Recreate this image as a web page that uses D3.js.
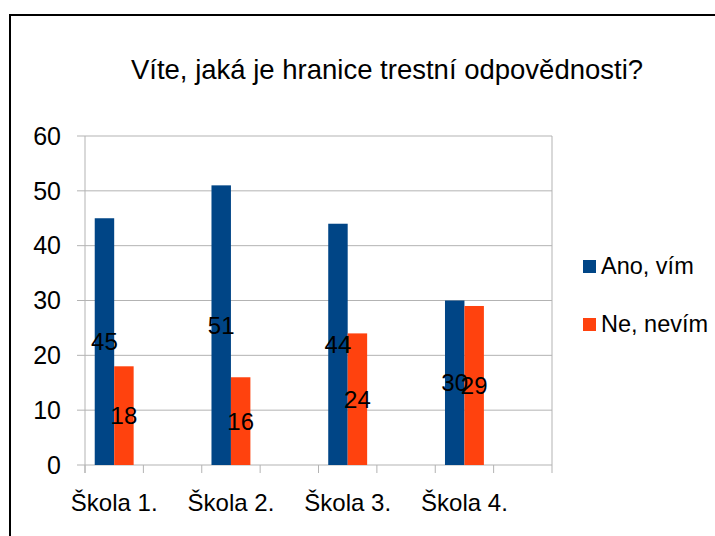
<!DOCTYPE html>
<html>
<head>
<meta charset="utf-8">
<script src="https://cdn.jsdelivr.net/npm/d3@7"></script>
<style>
  body { margin: 0; background: #fff; }
  svg { display: block; font-family: "Liberation Sans", Arial, sans-serif; }
</style>
</head>
<body>
<div id="chart"></div>
<script>
const categories = ["Škola 1.", "Škola 2.", "Škola 3.", "Škola 4."];
const seriesNames = ["Ano, vím", "Ne, nevím"];
const ano = [45, 51, 44, 30];
const ne = [18, 16, 24, 29];
const yTicks = [0, 10, 20, 30, 40, 50, 60];
const colors = ["#004586", "#ff420e"];
const title = "Víte, jaká je hranice trestní odpovědnosti?";

const width = 715, height = 536;
const svg = d3.select("#chart").append("svg")
    .attr("width", width)
    .attr("height", height);

// outer frame
svg.append("rect")
    .attr("x", 10).attr("y", 15)
    .attr("width", width).attr("height", height)
    .attr("fill", "none")
    .attr("stroke", "#000")
    .attr("stroke-width", 2);

svg.append("text")
    .attr("x", 387).attr("y", 79)
    .attr("text-anchor", "middle")
    .style("font-size", "27.5px")
    .text(title);

const plot = { left: 85, right: 552, top: 136, bottom: 465 };

const x = d3.scaleBand()
    .domain(categories)
    .range([plot.left, plot.right]);
const y = d3.scaleLinear()
    .domain([0, 60])
    .range([plot.bottom, plot.top]);

const barW = x.bandwidth() / 6;
const groupCenter = c => x(c) + x.bandwidth() / 4;

// gridlines + y ticks
svg.append("g").selectAll("line")
    .data(yTicks)
    .enter().append("line")
    .attr("x1", plot.left - 8)
    .attr("x2", plot.right)
    .attr("y1", d => y(d))
    .attr("y2", d => y(d))
    .attr("stroke", "#b3b3b3")
    .attr("stroke-width", 1);

svg.append("g").selectAll("text")
    .data(yTicks)
    .enter().append("text")
    .attr("x", 61)
    .attr("y", d => y(d))
    .attr("dy", "0.35em")
    .attr("text-anchor", "end")
    .style("font-size", "25px")
    .text(d => d);

// axis lines
svg.append("line")
    .attr("x1", plot.left).attr("x2", plot.left)
    .attr("y1", plot.top).attr("y2", plot.bottom + 8)
    .attr("stroke", "#b3b3b3");
svg.append("line")
    .attr("x1", plot.right).attr("x2", plot.right)
    .attr("y1", plot.top).attr("y2", plot.bottom + 8)
    .attr("stroke", "#b3b3b3");

// x ticks at band edges and band middles
const xTickPos = [];
categories.forEach(c => { xTickPos.push(x(c)); xTickPos.push(x(c) + x.bandwidth() / 2); });
svg.append("g").selectAll("line")
    .data(xTickPos)
    .enter().append("line")
    .attr("x1", d => d).attr("x2", d => d)
    .attr("y1", plot.bottom).attr("y2", plot.bottom + 8)
    .attr("stroke", "#b3b3b3");

svg.append("g").selectAll("text")
    .data(categories)
    .enter().append("text")
    .attr("x", d => groupCenter(d))
    .attr("y", 511)
    .attr("text-anchor", "middle")
    .style("font-size", "24px")
    .text(d => d);

// bars
const bars = [];
categories.forEach((c, i) => {
    bars.push({ cat: c, s: 0, v: ano[i] });
    bars.push({ cat: c, s: 1, v: ne[i] });
});

svg.append("g").selectAll("rect")
    .data(bars)
    .enter().append("rect")
    .attr("x", d => groupCenter(d.cat) - barW + d.s * barW)
    .attr("y", d => y(d.v))
    .attr("width", barW)
    .attr("height", d => y(0) - y(d.v))
    .attr("fill", d => colors[d.s]);

svg.append("g").selectAll("text")
    .data(bars)
    .enter().append("text")
    .attr("x", d => groupCenter(d.cat) - barW / 2 + d.s * barW)
    .attr("y", d => y(d.v / 2))
    .attr("dy", "0.35em")
    .attr("text-anchor", "middle")
    .style("font-size", "24px")
    .attr("fill", "#000")
    .text(d => d.v);

// legend
const legend = svg.append("g").selectAll("g")
    .data(seriesNames)
    .enter().append("g")
    .attr("transform", (d, i) => `translate(583, ${260 + i * 58})`);
legend.append("rect")
    .attr("width", 13).attr("height", 13)
    .attr("fill", (d, i) => colors[i]);
legend.append("text")
    .attr("x", 18).attr("y", 14)
    .style("font-size", "23.5px")
    .text(d => d);
</script>
</body>
</html>
